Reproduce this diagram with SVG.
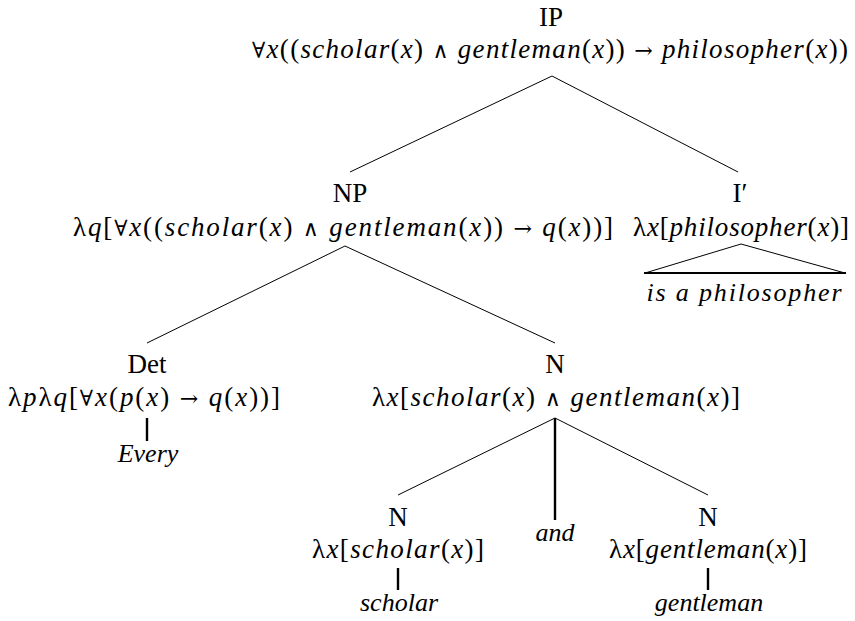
<svg xmlns="http://www.w3.org/2000/svg" width="855" height="621" viewBox="0 0 855 621">
<style>
text{font-family:"Liberation Serif","Times New Roman",serif;font-size:26px;fill:#000;text-anchor:middle}
.f{font-size:27px}
.i{font-style:italic}
.m{font-family:"DejaVu Serif",serif;font-size:22px}
.e{stroke:#000;stroke-width:1;fill:none}
.v{stroke:#000;stroke-width:2.4;fill:none}
</style>
<rect width="855" height="621" fill="#fff"/>
<g id="connectors">
<line class="e" x1="552" y1="76" x2="350" y2="172"/>
<line class="e" x1="552" y1="76" x2="738" y2="172"/>
<line class="e" x1="345" y1="246" x2="147" y2="343"/>
<line class="e" x1="345" y1="246" x2="555" y2="343"/>
<line class="v" x1="147" y1="418" x2="147" y2="441"/>
<line class="e" x1="555" y1="418" x2="398" y2="495"/>
<line class="v" x1="555" y1="418" x2="555" y2="520"/>
<line class="e" x1="555" y1="418" x2="708" y2="495"/>
<line class="v" x1="398" y1="568" x2="398" y2="590"/>
<line class="v" x1="708" y1="568" x2="708" y2="590"/>
<path class="e" d="M741 244 L645 273 M741 244 L845 273"/>
<line stroke="#000" stroke-width="2" x1="644" y1="273" x2="846" y2="273"/>
</g>
<g id="IP">
<text class="f" x="551" y="26">IP</text>
<text class="f" x="550" y="58" textLength="596" lengthAdjust="spacing"><tspan class="m">∀</tspan><tspan class="i">x</tspan>((<tspan class="i">scholar</tspan>(<tspan class="i">x</tspan>) <tspan class="m">∧</tspan> <tspan class="i">gentleman</tspan>(<tspan class="i">x</tspan>)) <tspan class="m">→</tspan> <tspan class="i">philosopher</tspan>(<tspan class="i">x</tspan>))</text>
</g>
<g id="NP">
<text class="f" x="350" y="202">NP</text>
<text class="f" x="343" y="236" textLength="540" lengthAdjust="spacing">λ<tspan class="i">q</tspan>[<tspan class="m">∀</tspan><tspan class="i">x</tspan>((<tspan class="i">scholar</tspan>(<tspan class="i">x</tspan>) <tspan class="m">∧</tspan> <tspan class="i">gentleman</tspan>(<tspan class="i">x</tspan>)) <tspan class="m">→</tspan> <tspan class="i">q</tspan>(<tspan class="i">x</tspan>))]</text>
</g>
<g id="Ibar">
<text class="f" x="740" y="202">I′</text>
<text class="f" x="741" y="236" textLength="216" lengthAdjust="spacing">λ<tspan class="i">x</tspan>[<tspan class="i">philosopher</tspan>(<tspan class="i">x</tspan>)]</text>
<text class="i" x="744" y="301" textLength="195" lengthAdjust="spacing">is a philosopher</text>
</g>
<g id="Det">
<text class="f" x="147" y="373">Det</text>
<text class="f" x="144" y="406" textLength="272" lengthAdjust="spacing">λ<tspan class="i">p</tspan>λ<tspan class="i">q</tspan>[<tspan class="m">∀</tspan><tspan class="i">x</tspan>(<tspan class="i">p</tspan>(<tspan class="i">x</tspan>) <tspan class="m">→</tspan> <tspan class="i">q</tspan>(<tspan class="i">x</tspan>))]</text>
</g>
<g id="Every">
<text class="i" x="148" y="462">Every</text>
</g>
<g id="N">
<text class="f" x="555" y="373">N</text>
<text class="f" x="556" y="406" textLength="368" lengthAdjust="spacing">λ<tspan class="i">x</tspan>[<tspan class="i">scholar</tspan>(<tspan class="i">x</tspan>) <tspan class="m">∧</tspan> <tspan class="i">gentleman</tspan>(<tspan class="i">x</tspan>)]</text>
</g>
<g id="N-scholar">
<text class="f" x="398" y="526">N</text>
<text class="f" x="398" y="558" textLength="172" lengthAdjust="spacing">λ<tspan class="i">x</tspan>[<tspan class="i">scholar</tspan>(<tspan class="i">x</tspan>)]</text>
</g>
<g id="scholar">
<text class="i" x="399" y="611">scholar</text>
</g>
<g id="and">
<text class="i" x="555" y="541">and</text>
</g>
<g id="N-gentleman">
<text class="f" x="708" y="526">N</text>
<text class="f" x="708" y="558" textLength="198" lengthAdjust="spacing">λ<tspan class="i">x</tspan>[<tspan class="i">gentleman</tspan>(<tspan class="i">x</tspan>)]</text>
</g>
<g id="gentleman">
<text class="i" x="709" y="611">gentleman</text>
</g>
</svg>
